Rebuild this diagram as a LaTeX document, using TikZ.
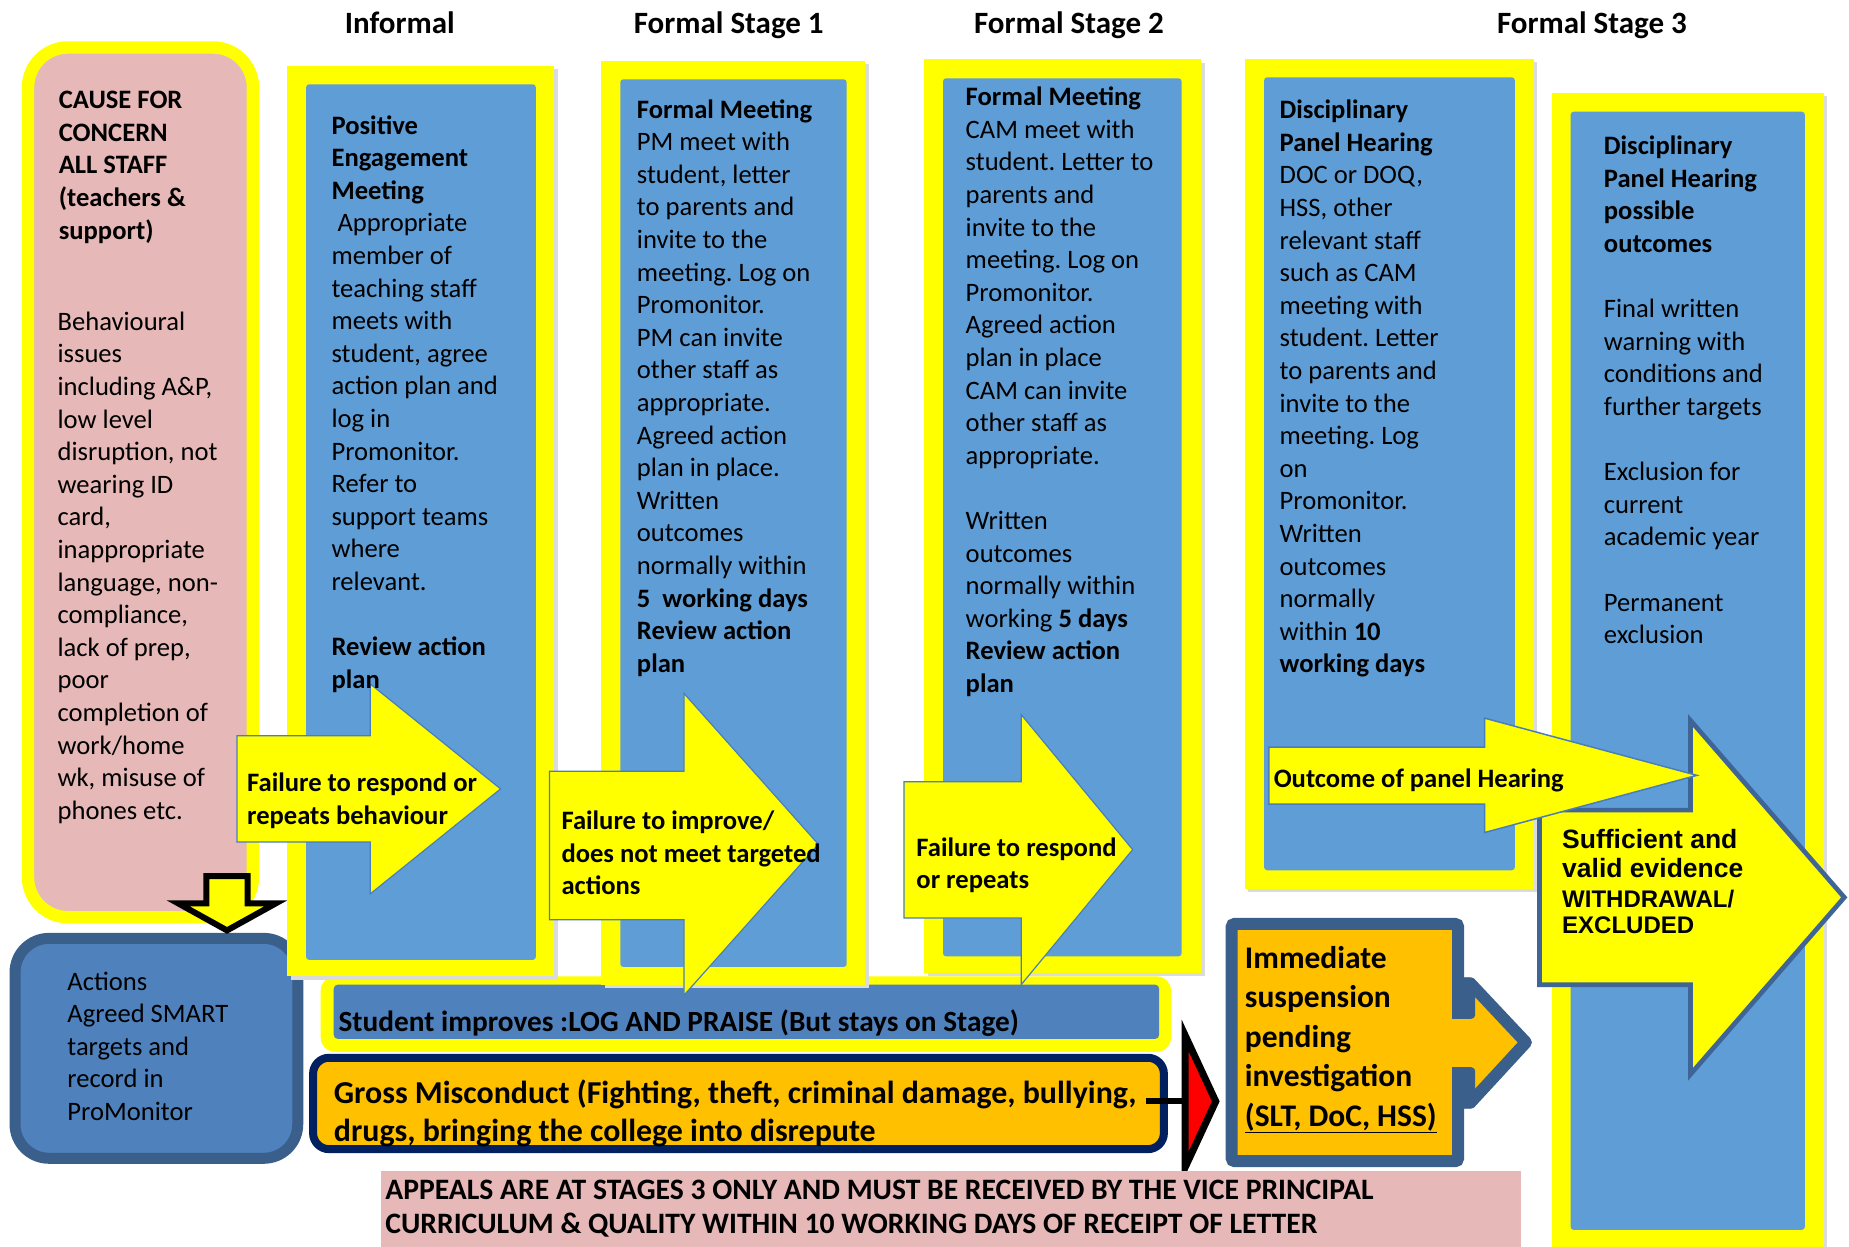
\documentclass[tikz,border=0pt]{standalone}
\usepackage{fontspec}
\setmainfont{Carlito}
\newfontfamily\arialfont{Liberation Sans}
\definecolor{yel}{HTML}{FFFF00}
\definecolor{stblue}{HTML}{5F9DD6}
\definecolor{barblue}{HTML}{4F81BD}
\definecolor{actedge}{HTML}{3A5F8B}
\definecolor{pinkbg}{HTML}{E6B8B7}
\definecolor{orng}{HTML}{FFC000}
\definecolor{navy}{HTML}{002060}
\definecolor{arredge}{HTML}{4A7EBB}
\definecolor{bigedge}{HTML}{3F6596}
\newcommand\bodyfont{\fontsize{26.6pt}{32.6pt}\selectfont}
\frenchspacing
\begin{document}
\frenchspacing
\begin{tikzpicture}[x=1.1792pt, y=-1.1792pt,
  bodytxt/.style={anchor=north west, inner sep=0pt, align=left, font=\bodyfont, yshift=22.82pt},
  boldtxt/.style={bodytxt, font=\bodyfont\bfseries},
  titletxt/.style={anchor=base, inner sep=0pt, font=\fontsize{31pt}{38pt}\selectfont\bfseries},
  shadowbox/.style={fill=black!14},
  yelframe/.style={fill=yel},
  bluepanel/.style={fill=stblue, rounded corners=3pt},
  blockarrow/.style={fill=yel, draw=arredge, line width=1.2pt, line join=miter},
]
\useasboundingbox (0,0) rectangle (1568,1057);

% ---- student improves bar
\fill[yel, rounded corners=14pt] (272,828) rectangle (993,892);
\fill[barblue, rounded corners=4pt] (283,835) rectangle (983,881);

% ---- cause for concern box
\draw[line width=12.4pt, draw=yel, fill=pinkbg, rounded corners=40pt] (23.75,40.25) rectangle (214.5,777.8);
% ---- actions box
\draw[line width=11pt, draw=actedge, fill=barblue, rounded corners=34pt] (12.75,795.75) rectangle (252.5,982.25);
% ---- down arrow
\draw[line width=6pt, fill=yel, line join=miter] (175,743) -- (210,743) -- (210,766) -- (234,766) -- (192.5,789) -- (151,766) -- (175,766) -- cycle;

% ---- stage boxes
\fill[shadowbox] (246.4,58.7) rectangle (473,831);
\fill[yelframe] (243.4,55.7) rectangle (470,828);
\fill[bluepanel] (259.6,71.5) rectangle (454.4,814);

\fill[shadowbox] (513,54.5) rectangle (736.6,838);
\fill[yelframe] (510,51.5) rectangle (733.6,835);
\fill[bluepanel] (526,67.3) rectangle (718,820);

\fill[shadowbox] (786.6,53.3) rectangle (1021.5,828);
\fill[yelframe] (783.6,50.3) rectangle (1018.5,825);
\fill[bluepanel] (799.7,66.4) rectangle (1002,811);

\fill[shadowbox] (1058.7,52.8) rectangle (1303.6,756.6);
\fill[yelframe] (1055.7,49.8) rectangle (1300.6,753.6);
\fill[bluepanel] (1072,65.6) rectangle (1284.6,738);

\fill[shadowbox] (1319,81.6) rectangle (1549.5,1062);
\fill[yelframe] (1316,78.6) rectangle (1546.5,1062);
\fill[bluepanel] (1332,94.7) rectangle (1530.5,1043);

% ---- gross misconduct bar
\draw[line width=8pt, draw=navy, fill=orng, rounded corners=16pt] (265.5,897) rectangle (987,974.5);

% ---- connector to red triangle
\coordinate (gmEnd) at (972,934);
\coordinate (redL) at (1005,934);
\coordinate (redT) at (1005,878);
\coordinate (redTip) at (1031,934);
\coordinate (redB) at (1005,990);
\draw[line width=6pt] (gmEnd) -- (redL);
\draw[line width=7pt, fill=red, line join=miter] (redT) -- (redTip) -- (redB) -- cycle;

% ---- immediate suspension box
\draw[line width=12pt, draw=actedge, fill=orng, rounded corners=3pt] (1044.5,783.5) rectangle (1236.5,984.7);
\draw[line width=12pt, draw=actedge, fill=orng, line join=round] (1238,834) -- (1247,834) -- (1294,884) -- (1247,935) -- (1238,935);
\fill[orng] (1228,864) rectangle (1252,905);
\fill[actedge, rounded corners=4pt] (1232,829) rectangle (1251,864);
\fill[actedge, rounded corners=4pt] (1232,905) rectangle (1251,940);

% ---- appeals bar
\fill[pinkbg] (323.5,993) rectangle (1289.7,1062);

% ---- block arrows
\draw[blockarrow] (201,624) -- (314,624) -- (314,580) -- (424.5,669) -- (314,758) -- (314,714) -- (201,714) -- cycle;
\draw[blockarrow] (466,654) -- (580,654) -- (580,588) -- (694,716) -- (580,844) -- (580,780) -- (466,780) -- cycle;
\draw[blockarrow] (766.6,663) -- (866,663) -- (866,606) -- (960.5,720.5) -- (866,835) -- (866,778.5) -- (766.6,778.5) -- cycle;
\draw[fill=yel, draw=bigedge, line width=4.7pt, line join=miter] (1305.5,687) -- (1433.6,687) -- (1433.6,611) -- (1564,761) -- (1433.6,911) -- (1433.6,835) -- (1305.5,835) -- cycle;
\draw[blockarrow, line width=1.5pt] (1076,633.5) -- (1259,633.5) -- (1259,609) -- (1439,657.5) -- (1259,706) -- (1259,682) -- (1076,682) -- cycle;

% ---- titles
\node[titletxt] (tInf) at (339,28.3) {Informal};
\node[titletxt] (tS1) at (618,28.3) {Formal Stage 1};
\node[titletxt] (tS2) at (906.5,28.3) {Formal Stage 2};
\node[titletxt] (tS3) at (1350,28.3) {Formal Stage 3};

% ---- texts
\node[boldtxt] (causeT) at (49.7,92) {\strut CAUSE FOR\\CONCERN\\ALL STAFF\\(teachers \&\\support)};
\node[bodytxt] (causeB) at (48.7,280) {\strut Behavioural\\issues\\including A\&P,\\low level\\disruption, not\\wearing ID\\card,\\inappropriate\\language, non-\\compliance,\\lack of prep,\\poor\\completion of\\work/home\\wk, misuse of\\phones etc.};

\node[bodytxt] (actT) at (57,839.5) {\strut Actions\\Agreed SMART\\targets and\\record in\\ProMonitor};

\node[bodytxt] (infT) at (281,113.5) {\strut\textbf{Positive}\\\textbf{Engagement}\\\textbf{Meeting}\\\ Appropriate\\member of\\teaching staff\\meets with\\student, agree\\action plan and\\log in\\Promonitor.\\Refer to\\support teams\\where\\relevant.\\[32.6pt]\textbf{Review action}\\\textbf{plan}};

\node[bodytxt] (s1T) at (540,100) {\strut\textbf{Formal Meeting}\\PM meet with\\student, letter\\to parents and\\invite to the\\meeting. Log on\\Promonitor.\\PM can invite\\other staff as\\appropriate.\\Agreed action\\plan in place.\\Written\\outcomes\\normally within\\\textbf{5~~working days}\\\textbf{Review action}\\\textbf{plan}};

\node[bodytxt] (s2T) at (818.8,89.5) {\strut\textbf{Formal Meeting}\\CAM meet with\\student. Letter to\\parents and\\invite to the\\meeting. Log on\\Promonitor.\\Agreed action\\plan in place\\CAM can invite\\other staff as\\appropriate.\\[32.6pt]Written\\outcomes\\normally within\\working \textbf{5 days}\\\textbf{Review action}\\\textbf{plan}};

\node[bodytxt] (s3T) at (1085,100.5) {\strut\textbf{Disciplinary}\\\textbf{Panel Hearing}\\DOC or DOQ,\\HSS, other\\relevant staff\\such as CAM\\meeting with\\student. Letter\\to parents and\\invite to the\\meeting. Log\\on\\Promonitor.\\Written\\outcomes\\normally\\within \textbf{10}\\\textbf{working days}};

\node[bodytxt] (s3R) at (1360,131) {\strut\textbf{Disciplinary}\\\textbf{Panel Hearing}\\\textbf{possible}\\\textbf{outcomes}\\[32.6pt]Final written\\warning with\\conditions and\\further targets\\[32.6pt]Exclusion for\\current\\academic year\\[32.6pt]Permanent\\exclusion};

\node[boldtxt] (a1T) at (209.4,671) {\strut Failure to respond or\\repeats behaviour};
\node[boldtxt] (a2T) at (476,703.5) {\strut Failure to improve/\\does not meet targeted\\actions};
\node[boldtxt] (a3T) at (777,726) {\strut Failure to respond\\or repeats};
\node[anchor=base west, inner sep=0pt, font=\bodyfont\bfseries] (outT) at (1080,667.5) {Outcome of panel Hearing};

\node[anchor=north west, inner sep=0pt, align=left, yshift=20.65pt, font=\arialfont\fontsize{26.5pt}{29.5pt}\selectfont\bfseries] (suf1) at (1324.6,719) {\strut Sufficient and\\valid evidence};
\node[anchor=north west, inner sep=0pt, align=left, yshift=18.48pt, font=\arialfont\fontsize{24pt}{26.4pt}\selectfont\bfseries] (suf2) at (1324.6,769) {\strut WITHDRAWAL/\\EXCLUDED};

\node[anchor=base west, inner sep=0pt, font=\fontsize{29.3pt}{35pt}\selectfont\bfseries] (stuT) at (287,874.5) {Student improves :LOG AND PRAISE (But stays on Stage)};

\node[anchor=north west, inner sep=0pt, align=left, yshift=26.81pt, font=\fontsize{31.9pt}{38.3pt}\selectfont\bfseries] (gmT) at (283,935.5) {\strut Gross Misconduct (Fighting, theft, criminal damage, bullying,\\drugs, bringing the college into disrepute};

\node[anchor=north west, inner sep=0pt, align=left, yshift=27.65pt, font=\fontsize{31.5pt}{39.5pt}\selectfont\bfseries] (immT) at (1055.6,821) {\strut Immediate\\suspension\\pending\\investigation\\\underline{(SLT, DoC, HSS)}};

\node[anchor=north west, inner sep=0pt, align=left, yshift=23.94pt, font=\fontsize{29.65pt}{34.2pt}\selectfont\bfseries] (appT) at (326.6,1017) {\strut APPEALS ARE AT STAGES 3 ONLY AND MUST BE RECEIVED BY THE VICE PRINCIPAL\\CURRICULUM \& QUALITY WITHIN 10 WORKING DAYS OF RECEIPT OF LETTER};
\end{tikzpicture}
\end{document}
